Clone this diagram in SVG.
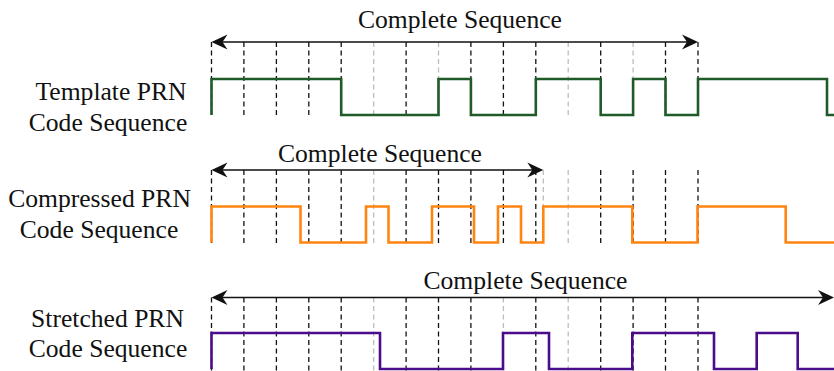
<svg xmlns="http://www.w3.org/2000/svg" width="834" height="371" viewBox="0 0 834 371">
  <style>
    .lbl { font-family: "Liberation Serif", "Times New Roman", serif; font-size: 25.6px; fill: #111; text-anchor: middle; }
    .grid { stroke: #111; stroke-width: 1.3; stroke-dasharray: 5 3.5; fill: none; }
    .grid.faint { stroke: #bdbdbd; }
    .span { stroke: #111; stroke-width: 1.6; fill: none; }
    .sig { fill: none; stroke-width: 2.6; stroke-linejoin: miter; }
    .template { stroke: #1f5a28; }
    .compressed { stroke: #ff8412; }
    .stretched { stroke: #4b0c8c; }
  </style>
  <defs>
    <!-- stealth-style arrow tip, drawn at 1:1 user units -->
    <path id="tip" d="M0,0 L-16,-7.5 L-11,0 L-16,7.5 Z" fill="#111"/>
  </defs>

  <!-- Template PRN code sequence -->
  <g id="template">
    <text class="lbl" x="111" y="100">Template PRN</text>
    <text class="lbl" x="108" y="131">Code Sequence</text>
    <g id="template-grid">
      <line class="grid" x1="211.5" y1="42" x2="211.5" y2="115"/>
      <line class="grid" x1="243.9" y1="42" x2="243.9" y2="115"/>
      <line class="grid" x1="276.4" y1="42" x2="276.4" y2="115"/>
      <line class="grid" x1="308.8" y1="42" x2="308.8" y2="115"/>
      <line class="grid" x1="341.2" y1="42" x2="341.2" y2="115"/>
      <line class="grid faint" x1="373.7" y1="42" x2="373.7" y2="115"/>
      <line class="grid" x1="406.1" y1="42" x2="406.1" y2="115"/>
      <line class="grid faint" x1="438.5" y1="42" x2="438.5" y2="115"/>
      <line class="grid" x1="470.9" y1="42" x2="470.9" y2="115"/>
      <line class="grid" x1="503.4" y1="42" x2="503.4" y2="115"/>
      <line class="grid" x1="535.8" y1="42" x2="535.8" y2="115"/>
      <line class="grid faint" x1="568.2" y1="42" x2="568.2" y2="115"/>
      <line class="grid" x1="600.7" y1="42" x2="600.7" y2="115"/>
      <line class="grid faint" x1="633.1" y1="42" x2="633.1" y2="115"/>
      <line class="grid" x1="665.5" y1="42" x2="665.5" y2="115"/>
      <line class="grid" x1="698" y1="42" x2="698" y2="115"/>
    </g>
    <path class="sig template" d="M211.5,115 V79 H341.2 V115 H438.5 V79 H470.9 V115 H535.8 V79 H600.7 V115 H633.1 V79 H665.5 V115 H698 V79 H827 V115 H834"/>
  </g>

  <!-- Compressed PRN code sequence -->
  <g id="compressed">
    <text class="lbl" x="99.5" y="206.5">Compressed PRN</text>
    <text class="lbl" x="99" y="237.5">Code Sequence</text>
    <g id="compressed-grid">
      <line class="grid" x1="211.5" y1="170" x2="211.5" y2="243"/>
      <line class="grid" x1="243.9" y1="170" x2="243.9" y2="243"/>
      <line class="grid" x1="276.4" y1="170" x2="276.4" y2="243"/>
      <line class="grid" x1="308.8" y1="170" x2="308.8" y2="243"/>
      <line class="grid" x1="341.2" y1="170" x2="341.2" y2="243"/>
      <line class="grid faint" x1="373.7" y1="170" x2="373.7" y2="243"/>
      <line class="grid" x1="406.1" y1="170" x2="406.1" y2="243"/>
      <line class="grid" x1="438.5" y1="170" x2="438.5" y2="243"/>
      <line class="grid" x1="470.9" y1="170" x2="470.9" y2="243"/>
      <line class="grid" x1="503.4" y1="170" x2="503.4" y2="243"/>
      <line class="grid" x1="535.8" y1="170" x2="535.8" y2="243"/>
      <line class="grid faint" x1="543.3" y1="170" x2="543.3" y2="243"/>
      <line class="grid faint" x1="568.2" y1="170" x2="568.2" y2="243"/>
      <line class="grid" x1="600.7" y1="170" x2="600.7" y2="243"/>
      <line class="grid" x1="633.1" y1="170" x2="633.1" y2="243"/>
      <line class="grid" x1="665.5" y1="170" x2="665.5" y2="243"/>
      <line class="grid" x1="698" y1="170" x2="698" y2="243"/>
    </g>
    <path class="sig compressed" d="M211.5,242.5 V206.5 H300.5 V242.5 H366 V206.5 H388.5 V242.5 H432 V206.5 H474 V242.5 H498 V206.5 H521 V242.5 H543.3 V206.5 H632.3 V242.5 H697.5 V206.5 H785.7 V242.5 H834"/>
  </g>

  <!-- Stretched PRN code sequence -->
  <g id="stretched">
    <text class="lbl" x="107.5" y="326.5">Stretched PRN</text>
    <text class="lbl" x="108" y="357">Code Sequence</text>
    <g id="stretched-grid">
      <line class="grid" x1="211.5" y1="297.5" x2="211.5" y2="371"/>
      <line class="grid" x1="243.9" y1="297.5" x2="243.9" y2="371"/>
      <line class="grid" x1="276.4" y1="297.5" x2="276.4" y2="371"/>
      <line class="grid" x1="308.8" y1="297.5" x2="308.8" y2="371"/>
      <line class="grid" x1="341.2" y1="297.5" x2="341.2" y2="371"/>
      <line class="grid faint" x1="373.7" y1="297.5" x2="373.7" y2="371"/>
      <line class="grid" x1="406.1" y1="297.5" x2="406.1" y2="371"/>
      <line class="grid" x1="438.5" y1="297.5" x2="438.5" y2="371"/>
      <line class="grid" x1="470.9" y1="297.5" x2="470.9" y2="371"/>
      <line class="grid faint" x1="503.4" y1="297.5" x2="503.4" y2="371"/>
      <line class="grid" x1="535.8" y1="297.5" x2="535.8" y2="371"/>
      <line class="grid faint" x1="568.2" y1="297.5" x2="568.2" y2="371"/>
      <line class="grid" x1="600.7" y1="297.5" x2="600.7" y2="371"/>
      <line class="grid" x1="633.1" y1="297.5" x2="633.1" y2="371"/>
      <line class="grid" x1="665.5" y1="297.5" x2="665.5" y2="371"/>
      <line class="grid" x1="698" y1="297.5" x2="698" y2="371"/>
    </g>
    <path class="sig stretched" d="M211.5,369 V333 H380 V369 H503 V333 H549 V369 H632.3 V333 H714 V369 H756.7 V333 H797.7 V369 H834"/>
  </g>

  <!-- Span arrows marking one complete sequence -->
  <g id="connectors">
    <line class="span" x1="215" y1="42" x2="694" y2="42"/>
    <use href="#tip" transform="translate(211.5,42) rotate(180)"/>
    <use href="#tip" transform="translate(698,42)"/>
    <line class="span" x1="215" y1="170" x2="540" y2="170"/>
    <use href="#tip" transform="translate(211.5,170) rotate(180)"/>
    <use href="#tip" transform="translate(543.3,170)"/>
    <line class="span" x1="215" y1="297.5" x2="830" y2="297.5"/>
    <use href="#tip" transform="translate(211.5,297.5) rotate(180)"/>
    <use href="#tip" transform="translate(834,297.5)"/>
    <text class="lbl" x="460" y="28">Complete Sequence</text>
    <text class="lbl" x="380" y="161.5">Complete Sequence</text>
    <text class="lbl" x="525.5" y="289">Complete Sequence</text>
  </g>
</svg>
